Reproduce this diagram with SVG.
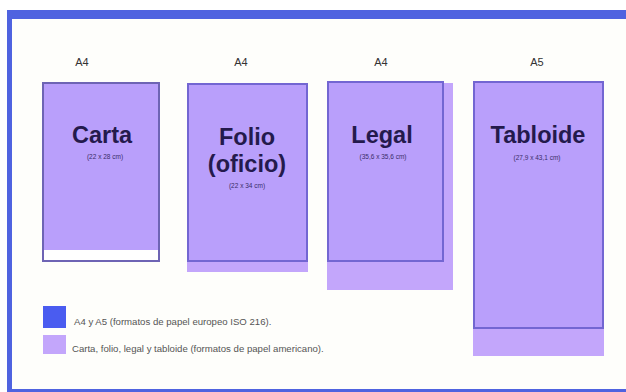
<svg xmlns="http://www.w3.org/2000/svg" width="626" height="392" viewBox="0 0 626 392">
<style>
.frame{fill:#4f63e0}
.page{fill:#b99ffb;stroke:#7366d2;stroke-width:2}
.shadow{fill:#c3a6fb}
.size{font-family:"Liberation Sans",Arial,sans-serif;font-size:11px;fill:#333;text-anchor:middle}
.title{font-family:"Liberation Sans",Arial,sans-serif;font-size:23.5px;font-weight:bold;fill:#241a4c;text-anchor:middle}
.dim{font-family:"Liberation Sans",Arial,sans-serif;font-size:6.5px;fill:#3a2d6a;text-anchor:middle}
.leg{font-family:"Liberation Sans",Arial,sans-serif;font-size:9.6px;fill:#555}
</style>
<rect width="626" height="392" fill="#ffffff"/>
<rect x="7" y="10" width="630" height="382" class="frame"/>
<rect x="12" y="19" width="625" height="370" fill="#fefefb"/>

<g id="carta">
<text x="82" y="66" class="size">A4</text>
<rect x="43" y="83" width="116" height="178" fill="#ffffff" stroke="#6e64b4" stroke-width="2"/>
<rect x="44" y="84" width="114" height="166" fill="#b99ffb"/>
<text x="102" y="143" class="title">Carta</text>
<text x="105" y="159" class="dim">(22 x 28 cm)</text>
</g>

<g id="folio">
<text x="241" y="66" class="size">A4</text>
<rect x="187" y="258" width="121" height="14" class="shadow"/>
<rect x="188" y="84" width="119" height="177" class="page"/>
<text x="247" y="145" class="title">Folio</text>
<text x="247" y="172" class="title">(oficio)</text>
<text x="247" y="188" class="dim">(22 x 34 cm)</text>
</g>

<g id="legal">
<text x="381" y="66" class="size">A4</text>
<rect x="327" y="83" width="126" height="207" class="shadow"/>
<rect x="328" y="82" width="115" height="179" class="page"/>
<text x="382" y="143" class="title">Legal</text>
<text x="383" y="159" class="dim">(35,6 x 35,6 cm)</text>
</g>

<g id="tabloide">
<text x="537" y="66" class="size">A5</text>
<rect x="473" y="320" width="131" height="36" class="shadow"/>
<rect x="474" y="82" width="129" height="246" class="page"/>
<text x="538" y="143" class="title">Tabloide</text>
<text x="537" y="160" class="dim">(27,9 x 43,1 cm)</text>
</g>

<g id="legend">
<rect x="43" y="306" width="23" height="22" fill="#4a5cf0"/>
<text x="74" y="325" class="leg">A4 y A5 (formatos de papel europeo ISO 216).</text>
<rect x="43" y="335" width="23" height="19" fill="#c3a6fb"/>
<text x="72" y="352" class="leg">Carta, folio, legal y tabloide (formatos de papel americano).</text>
</g>
<g id="connectors"/>
</svg>
